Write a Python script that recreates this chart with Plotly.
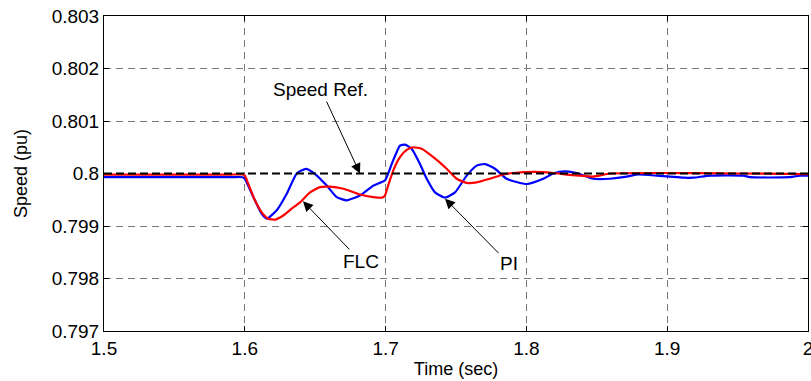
import plotly.graph_objects as go

# ---- data ----
t_pi = [1.5, 1.55, 1.59, 1.5985, 1.6, 1.6061, 1.6120, 1.6156, 1.6227, 1.6297, 1.6369, 1.6435, 1.6499,
        1.6582, 1.6653, 1.6724, 1.6818, 1.6913, 1.6996, 1.7043, 1.7079, 1.7102, 1.7138,
        1.7185, 1.7244, 1.7292, 1.7351, 1.7422, 1.7493, 1.7576, 1.7647, 1.7706, 1.7777,
        1.7860, 1.8002, 1.8120, 1.8191, 1.8274, 1.8357, 1.8475, 1.8594, 1.8712, 1.8783,
        1.8925, 1.9020, 1.9114, 1.9185, 1.9304, 1.9540, 1.9588, 1.9872, 1.9943, 2.0]
pi_speed = [0.79993, 0.79993, 0.79993, 0.79993, 0.79990, 0.79955, 0.79923, 0.79914, 0.79930, 0.79961, 0.80000, 0.80009, 0.79999,
            0.79977, 0.79955, 0.79949, 0.79958, 0.79977, 0.79987, 0.80018, 0.80041, 0.80053, 0.80055,
            0.80047, 0.80018, 0.79990, 0.79964, 0.79954, 0.79964, 0.79996, 0.80015, 0.80018, 0.80009,
            0.79990, 0.79980, 0.79990, 0.80000, 0.80004, 0.80001, 0.79990, 0.79990, 0.79994, 0.79998,
            0.79996, 0.79994, 0.79992, 0.79992, 0.79996, 0.79996, 0.79993, 0.79993, 0.79996, 0.79996]

t_flc = [1.5, 1.55, 1.59, 1.5985, 1.6, 1.6025, 1.6072, 1.6120, 1.6167, 1.6214, 1.6273, 1.6333, 1.6392,
         1.6463, 1.6534, 1.6605, 1.6700, 1.6818, 1.6913, 1.6975, 1.6995, 1.7019, 1.7055, 1.7102,
         1.7150, 1.7197, 1.7256, 1.7339, 1.7434, 1.7505, 1.7576, 1.7647, 1.7741, 1.7836,
         1.7907, 1.8049, 1.8191, 1.8286, 1.8381, 1.8475, 1.8594, 1.8950, 1.95, 2.0]
flc_speed = [0.79998, 0.79998, 0.79998, 0.79998, 0.79996, 0.79980, 0.79949, 0.79926, 0.79914, 0.79912, 0.79920, 0.79933, 0.79945,
             0.79964, 0.79974, 0.79975, 0.79971, 0.79960, 0.79955, 0.79954, 0.79958, 0.79978, 0.80006, 0.80031,
             0.80045, 0.80050, 0.80047, 0.80031, 0.80009, 0.79990, 0.79982, 0.79983, 0.79990, 0.79998,
             0.80001, 0.80003, 0.80001, 0.79998, 0.79996, 0.79994, 0.80000, 0.80001, 0.80000, 0.79999]

t_ref = [1.5, 2.0]
ref_speed = [0.8, 0.8]

x_ticks = [1.5, 1.6, 1.7, 1.8, 1.9, 2.0]
x_ticktext = ["1.5", "1.6", "1.7", "1.8", "1.9", "2"]
y_ticks = [0.797, 0.798, 0.799, 0.8, 0.801, 0.802, 0.803]
y_ticktext = ["0.797", "0.798", "0.799", "0.8", "0.801", "0.802", "0.803"]

FONT = "Arial, 'Liberation Sans', Helvetica, sans-serif"

fig = go.Figure()
fig.add_trace(go.Scatter(x=t_pi, y=pi_speed, mode="lines", name="PI",
                         line=dict(color="#0000ff", width=2.2, shape="spline", smoothing=0.5)))
fig.add_trace(go.Scatter(x=t_flc, y=flc_speed, mode="lines", name="FLC",
                         line=dict(color="#ff0000", width=2.2, shape="spline", smoothing=0.5)))
fig.add_trace(go.Scatter(x=t_ref, y=ref_speed, mode="lines", name="Speed Ref.",
                         line=dict(color="black", width=2, dash="8px,4px")))

ann_font = dict(family=FONT, size=19, color="black")
arrow = dict(showarrow=True, arrowhead=2, arrowsize=2, arrowwidth=1,
             arrowcolor="black", standoff=0, font=ann_font)
fig.add_annotation(x=1.6818, y=0.8, text="Speed Ref.", ax=-39, ay=-84, **arrow)
fig.add_annotation(x=1.6413, y=0.79947, text="FLC", ax=58, ay=60, **arrow)
fig.add_annotation(x=1.7422, y=0.79952, text="PI", ax=64, ay=65, **arrow)

axis_common = dict(showline=True, linecolor="black", linewidth=1, mirror="ticks",
                   ticks="inside", ticklen=5, tickcolor="black", tickwidth=1,
                   showgrid=True, gridcolor="#7a7a7a", gridwidth=1, griddash="7px,5px",
                   zeroline=False, automargin=False, ticklabeloverflow="allow",
                   tickfont=dict(family=FONT, size=19, color="black"))

fig.update_xaxes(range=[1.5, 2.0], tickvals=x_ticks, ticktext=x_ticktext,
                 title=dict(text="Time (sec)", font=dict(family=FONT, size=18, color="black"), standoff=4),
                 **axis_common)
fig.update_yaxes(range=[0.797, 0.803], tickvals=y_ticks, ticktext=y_ticktext,
                 title=dict(text="Speed (pu)", font=dict(family=FONT, size=18, color="black"), standoff=19),
                 **axis_common)

fig.update_layout(width=811, height=381, showlegend=False,
                  margin=dict(l=104, r=3, t=16, b=50),
                  paper_bgcolor="white", plot_bgcolor="white",
                  font=dict(family=FONT, color="black"))

fig.write_html("out.html", config={"displayModeBar": False},
               post_script="document.body.style.margin='0';document.body.style.overflow='hidden';")
